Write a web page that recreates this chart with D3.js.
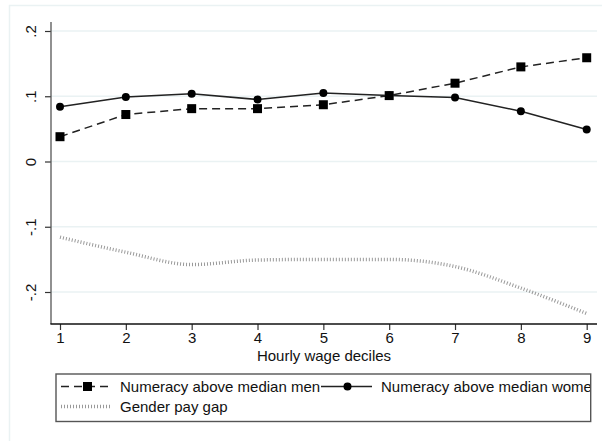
<!DOCTYPE html>
<html>
<head>
<meta charset="utf-8">
<script src="https://cdn.jsdelivr.net/npm/d3@7"></script>
<style>
  html, body { margin: 0; padding: 0; background: #fff; }
  svg { display: block; font-family: "Liberation Sans", Arial, sans-serif; }
</style>
</head>
<body>
<svg id="chart" width="602" height="441"></svg>
<script>
// ---- Data ----
const deciles = [1, 2, 3, 4, 5, 6, 7, 8, 9];
const menValues = [0.038, 0.072, 0.081, 0.081, 0.087, 0.101, 0.120, 0.145, 0.159];
const womenValues = [0.084, 0.099, 0.104, 0.095, 0.105, 0.101, 0.098, 0.077, 0.049];
const payGapValues = [-0.116, -0.139, -0.158, -0.151, -0.150, -0.150, -0.161, -0.194, -0.233];
const yTickValues = [-0.2, -0.1, 0, 0.1, 0.2];
const yTickLabels = ["-.2", "-.1", "0", ".1", ".2"];
const xTickValues = [1, 2, 3, 4, 5, 6, 7, 8, 9];
const xTitle = "Hourly wage deciles";
const legendLabels = ["Numeracy above median men", "Numeracy above median women", "Gender pay gap"];

// ---- Layout ----
const svg = d3.select("#chart");
const plotLeft = 51, plotRight = 597, plotTop = 22, plotBottom = 324;

const x = d3.scaleLinear().domain([1, 9]).range([60, 586.7]);
const y = d3.scaleLinear().domain([-0.2, 0.2]).range([292, 31]);

// outer graph region frame
svg.append("rect")
  .attr("x", 9.5).attr("y", 5.5).attr("width", 620).attr("height", 460)
  .attr("fill", "#fff").attr("stroke", "#eaf2f3").attr("stroke-width", 1.5);

// gridlines
svg.append("g").selectAll("line").data(yTickValues).join("line")
  .attr("x1", plotLeft).attr("x2", plotRight)
  .attr("y1", d => y(d)).attr("y2", d => y(d))
  .attr("stroke", "#eaf2f3").attr("stroke-width", 1.5);

// Y axis
const yAxis = d3.axisLeft(y).tickValues(yTickValues)
  .tickFormat((d, i) => yTickLabels[i]).tickSize(6).tickPadding(0);
const gy = svg.append("g").attr("transform", `translate(${plotLeft},0)`).call(yAxis);
gy.select(".domain").remove();
gy.selectAll(".tick line").attr("stroke", "#333").attr("stroke-width", 1.2);
gy.selectAll(".tick text")
  .attr("x", 0).attr("dy", null)
  .attr("text-anchor", "middle")
  .attr("transform", "translate(-15,0) rotate(-90)")
  .attr("font-size", 15).attr("fill", "#111");
svg.append("line")
  .attr("x1", plotLeft).attr("x2", plotLeft)
  .attr("y1", plotTop).attr("y2", plotBottom)
  .attr("stroke", "#555").attr("stroke-width", 1.3);

// X axis
const xAxis = d3.axisBottom(x).tickValues(xTickValues).tickFormat(d3.format("d")).tickSize(6).tickPadding(2);
const gx = svg.append("g").attr("transform", `translate(0,${plotBottom})`).call(xAxis);
gx.select(".domain").remove();
gx.selectAll(".tick line").attr("stroke", "#333").attr("stroke-width", 1.2);
gx.selectAll(".tick text").attr("font-size", 15).attr("fill", "#111");
svg.append("line")
  .attr("x1", plotLeft - 0.6).attr("x2", plotRight)
  .attr("y1", plotBottom).attr("y2", plotBottom)
  .attr("stroke", "#111").attr("stroke-width", 1.3);

svg.append("text")
  .attr("x", (plotLeft + plotRight) / 2).attr("y", 360.5)
  .attr("text-anchor", "middle").attr("font-size", 15).attr("fill", "#111")
  .text(xTitle);

// ---- Series ----
const lineGen = d3.line().x((d, i) => x(deciles[i])).y(d => y(d));
const smoothGen = d3.line().x((d, i) => x(deciles[i])).y(d => y(d)).curve(d3.curveMonotoneX);

// pay gap
svg.append("path").datum(payGapValues)
  .attr("d", smoothGen)
  .attr("fill", "none").attr("stroke", "#999")
  .attr("stroke-width", 3.5).attr("stroke-dasharray", "1 2");

// men (dashed with squares)
svg.append("path").datum(menValues)
  .attr("d", lineGen)
  .attr("fill", "none").attr("stroke", "#222")
  .attr("stroke-width", 1.5).attr("stroke-dasharray", "8 5");
svg.append("g").selectAll("rect").data(menValues).join("rect")
  .attr("x", (d, i) => x(deciles[i]) - 4.5)
  .attr("y", d => y(d) - 4.5)
  .attr("width", 9).attr("height", 9).attr("fill", "#000");

// women (solid with circles)
svg.append("path").datum(womenValues)
  .attr("d", lineGen)
  .attr("fill", "none").attr("stroke", "#222").attr("stroke-width", 1.5);
svg.append("g").selectAll("circle").data(womenValues).join("circle")
  .attr("cx", (d, i) => x(deciles[i]))
  .attr("cy", d => y(d))
  .attr("r", 4).attr("fill", "#000");

// ---- Legend ----
const lg = { x: 56, y: 374, w: 534.7, h: 47.5 };
svg.append("clipPath").attr("id", "legclip")
  .append("rect").attr("x", lg.x).attr("y", lg.y).attr("width", lg.w).attr("height", lg.h);
const leg = svg.append("g");
leg.append("rect").attr("x", lg.x).attr("y", lg.y).attr("width", lg.w).attr("height", lg.h)
  .attr("fill", "#fff");
const legItems = leg.append("g").attr("clip-path", "url(#legclip)");
const row1 = 386.5, row2 = 406.5;

// men symbol
legItems.append("line").attr("x1", 61).attr("x2", 112).attr("y1", row1).attr("y2", row1)
  .attr("stroke", "#222").attr("stroke-width", 1.5).attr("stroke-dasharray", "8 5");
legItems.append("rect").attr("x", 87.5 - 4.5).attr("y", row1 - 4.5).attr("width", 9).attr("height", 9).attr("fill", "#000");
legItems.append("text").attr("x", 120).attr("y", row1 + 5.3).attr("font-size", 15).attr("fill", "#111")
  .text(legendLabels[0]);

// women symbol
legItems.append("line").attr("x1", 321).attr("x2", 372).attr("y1", row1).attr("y2", row1)
  .attr("stroke", "#222").attr("stroke-width", 1.5);
legItems.append("circle").attr("cx", 347.5).attr("cy", row1).attr("r", 4).attr("fill", "#000");
legItems.append("text").attr("x", 381).attr("y", row1 + 5.3).attr("font-size", 15).attr("fill", "#111")
  .text(legendLabels[1]);

// pay gap symbol
legItems.append("line").attr("x1", 61).attr("x2", 112).attr("y1", row2).attr("y2", row2)
  .attr("stroke", "#999").attr("stroke-width", 3.5).attr("stroke-dasharray", "1 2");
legItems.append("text").attr("x", 120).attr("y", row2 + 5.3).attr("font-size", 15).attr("fill", "#111")
  .text(legendLabels[2]);

leg.append("rect").attr("x", lg.x).attr("y", lg.y).attr("width", lg.w).attr("height", lg.h)
  .attr("fill", "none").attr("stroke", "#555").attr("stroke-width", 1.4);
</script>
</body>
</html>
